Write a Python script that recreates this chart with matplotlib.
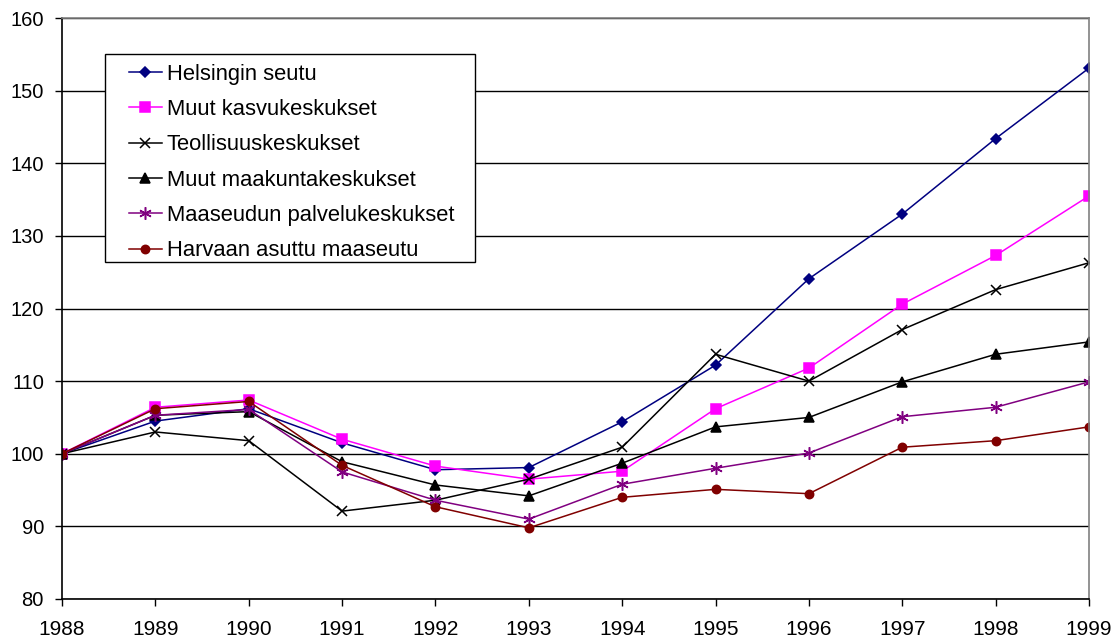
import matplotlib
matplotlib.use("Agg")
import matplotlib.pyplot as plt
from matplotlib.patches import Rectangle

plt.rcParams['font.family'] = ['Liberation Sans', 'DejaVu Sans']

years = [1988, 1989, 1990, 1991, 1992, 1993, 1994, 1995, 1996, 1997, 1998, 1999]

helsinki = [100, 104.5, 106.2, 101.5, 97.8, 98.1, 104.4, 112.2, 124.1, 133.0, 143.4, 153.1]
kasvu = [100, 106.4, 107.4, 102.0, 98.3, 96.5, 97.6, 106.2, 111.8, 120.6, 127.3, 135.5]
teollisuus = [100, 103.0, 101.8, 92.1, 93.6, 96.5, 100.9, 113.7, 110.0, 117.1, 122.6, 126.3]
maakunta = [100, 105.3, 105.8, 98.9, 95.7, 94.2, 98.7, 103.7, 105.0, 109.9, 113.7, 115.4]
palvelu = [100, 105.3, 106.1, 97.5, 93.6, 91.0, 95.8, 98.0, 100.1, 105.1, 106.4, 109.9]
harvaan = [100, 106.2, 107.2, 98.4, 92.7, 89.8, 94.0, 95.1, 94.5, 100.9, 101.8, 103.7]

labels = ["Helsingin seutu", "Muut kasvukeskukset", "Teollisuuskeskukset",
          "Muut maakuntakeskukset", "Maaseudun palvelukeskukset", "Harvaan asuttu maaseutu"]
series = [helsinki, kasvu, teollisuus, maakunta, palvelu, harvaan]
colors = ["#000080", "#FF00FF", "#000000", "#000000", "#800080", "#800000"]
markers = ["D", "s", "x", "^", (6, 2, 0), "o"]
msizes = [5.5, 7, 7, 7, 9, 6]

fig = plt.figure(figsize=(11.19, 6.41), dpi=100)
ax = fig.add_axes([62 / 1119, 1 - 599 / 641, 1027 / 1119, 581 / 641])

for vals, lab, c, m, ms in zip(series, labels, colors, markers, msizes):
    ax.plot(years, vals, color=c, marker=m, markersize=ms, lw=1.1, label=lab,
            markeredgecolor=c, markerfacecolor=c, markeredgewidth=1.1)

ax.set_xlim(1988, 1999)
ax.set_ylim(80, 160)
ax.set_xticks(years)
ax.set_yticks(range(80, 161, 10))
ax.tick_params(axis='both', direction='out', length=5, width=1, color='black')
ax.tick_params(axis='x', labelsize=15, pad=10)
ax.tick_params(axis='y', labelsize=14.5, pad=8)
ax.grid(axis='y', color='black', lw=1)
ax.set_axisbelow(True)

ax.spines['left'].set_color('black')
ax.spines['bottom'].set_color('black')
ax.spines['top'].set_color('#808080')
ax.spines['right'].set_color('#808080')
for s in ax.spines.values():
    s.set_linewidth(1.2)

# legend box drawn separately so the padding matches the original
box = Rectangle((0.0419, 0.580), 0.3603, 0.358, transform=ax.transAxes,
                facecolor='white', edgecolor='black', lw=1.0, zorder=4.9)
ax.add_patch(box)
leg = ax.legend(loc='upper left', bbox_to_anchor=(0.0652, 0.921),
                borderaxespad=0, fontsize=15.8, frameon=False,
                handlelength=1.5, handletextpad=0.23,
                labelspacing=0.65, borderpad=0)

fig.savefig("out.png", dpi=100)
